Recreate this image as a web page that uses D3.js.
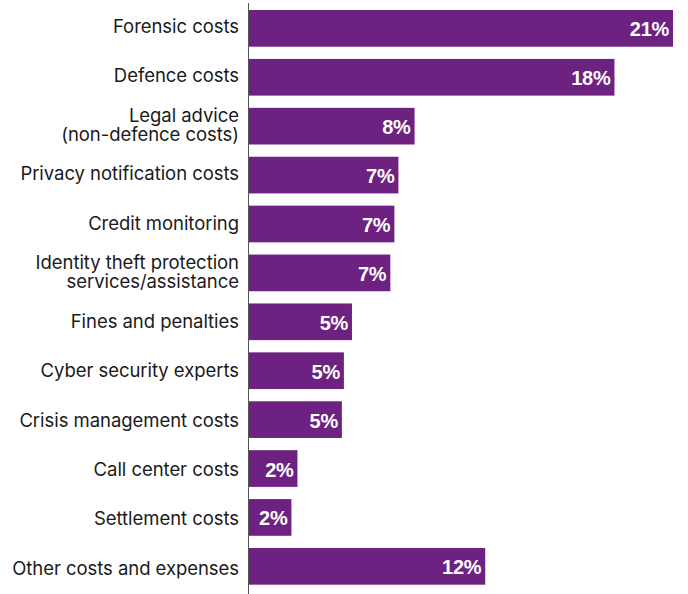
<!DOCTYPE html>
<html>
<head>
<meta charset="utf-8">
<script src="https://cdn.jsdelivr.net/npm/d3@7/dist/d3.min.js"></script>
<style>
  html, body { margin: 0; padding: 0; background: #fff; }
  svg { display: block; }
</style>
</head>
<body>
<svg id="chart" width="688" height="594"></svg>
<script>
// Cost categories (label lines) and their share of total cost, in percent
const categories = [
  ["Forensic costs"],
  ["Defence costs"],
  ["Legal advice", "(non-defence costs)"],
  ["Privacy notification costs"],
  ["Credit monitoring"],
  ["Identity theft protection", "services/assistance"],
  ["Fines and penalties"],
  ["Cyber security experts"],
  ["Crisis management costs"],
  ["Call center costs"],
  ["Settlement costs"],
  ["Other costs and expenses"]
];
const shares = [21.0, 18.1, 8.2, 7.4, 7.2, 7.0, 5.1, 4.7, 4.6, 2.4, 2.1, 11.7];

const svg = d3.select("#chart");
const axisX = 248.5;
const barX0 = 249;

const x = d3.scaleLinear().domain([0, 21]).range([0, 424]);
const y = d3.scaleBand()
  .domain(d3.range(categories.length))
  .range([3.9, 590.8])
  .paddingInner(0.25)
  .paddingOuter(0.125);
// baseline of each category label block (centre of its lines)
const yLabel = d3.scaleLinear()
  .domain([0, categories.length - 1])
  .range([32.5, 574.5]);

const rows = categories.map((c, i) => ({ lines: c, value: shares[i], i }));

// bars
svg.append("g").selectAll("rect")
  .data(rows)
  .join("rect")
  .attr("x", barX0)
  .attr("y", d => y(d.i))
  .attr("width", d => x(d.value))
  .attr("height", y.bandwidth())
  .attr("fill", "#6d2180");

// value labels inside bar ends
const fmt = d3.format(".0f");
svg.append("g").selectAll("text")
  .data(rows)
  .join("text")
  .attr("x", d => barX0 + x(d.value) - 4)
  .attr("y", d => y(d.i) + y.bandwidth() / 2)
  .attr("dy", "0.4em")
  .attr("text-anchor", "end")
  .attr("fill", "#fff")
  .attr("font-family", "Liberation Sans, Arial, sans-serif")
  .attr("font-weight", "bold")
  .attr("font-size", 20)
  .attr("letter-spacing", "-0.3px")
  .text(d => fmt(d.value) + "%");

// category labels, right-aligned against the axis
const lineH = 19;
const lab = svg.append("g").selectAll("text")
  .data(rows)
  .join("text")
  .attr("text-anchor", "end")
  .attr("fill", "#1a1a1a")
  .attr("font-family", "Inter, sans-serif")
  .attr("font-size", 18.5)
  .attr("letter-spacing", "-0.05px");
lab.selectAll("tspan")
  .data(d => d.lines.map((t, k) => ({ t, k, n: d.lines.length, i: d.i })))
  .join("tspan")
  .attr("x", 239)
  .attr("y", d => yLabel(d.i) + (d.k - (d.n - 1) / 2) * lineH)
  .text(d => d.t);

// vertical axis line
svg.append("line")
  .attr("x1", axisX).attr("x2", axisX)
  .attr("y1", 3).attr("y2", 594)
  .attr("stroke", "#555")
  .attr("stroke-width", 1);
</script>
</body>
</html>
